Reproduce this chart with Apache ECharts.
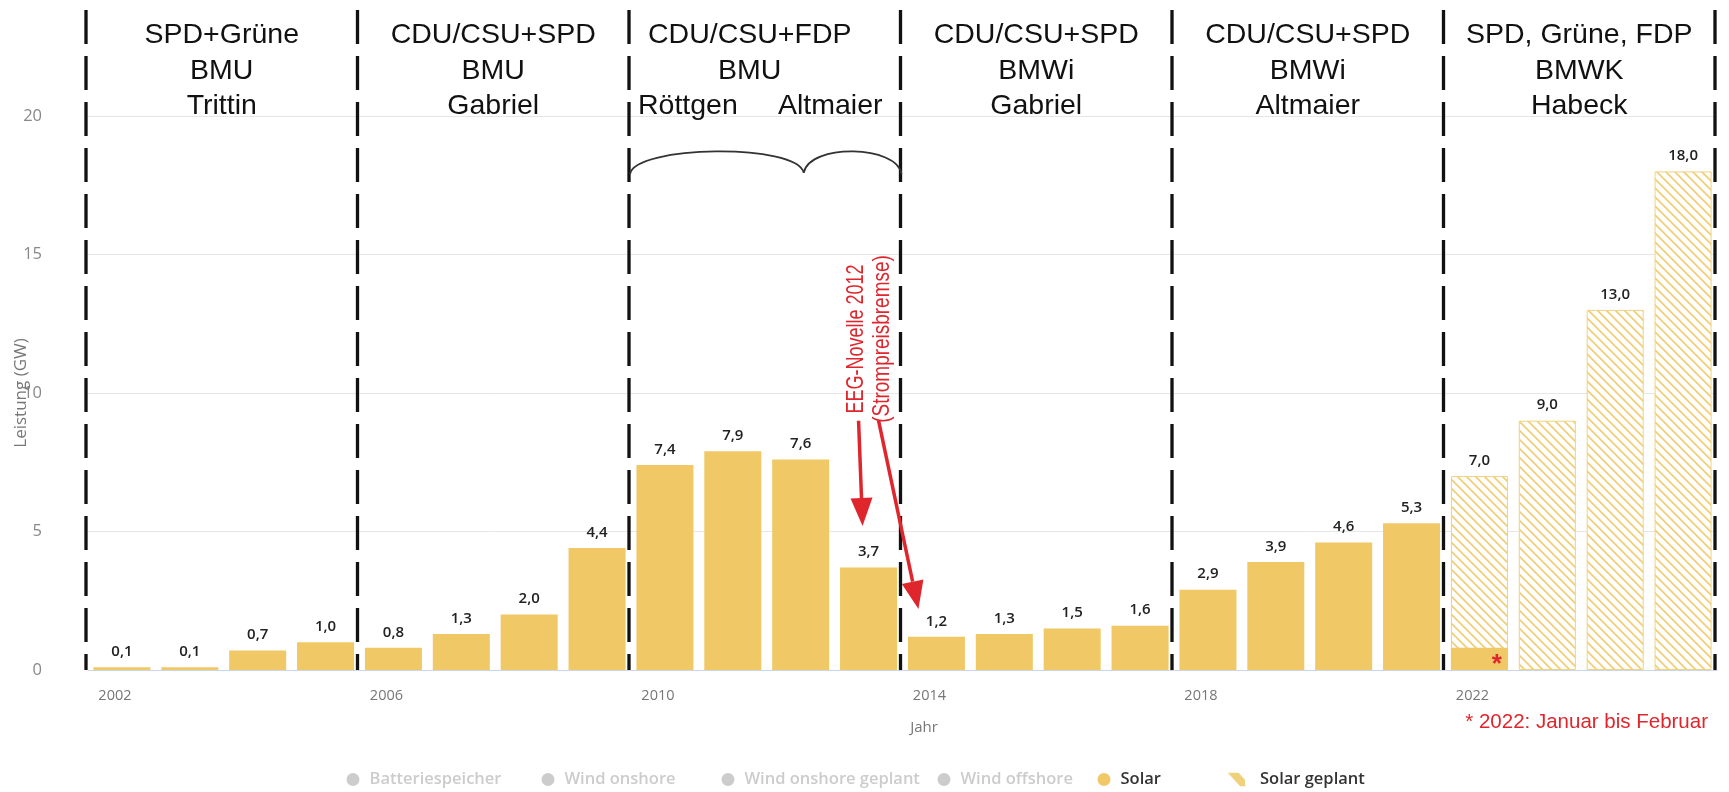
<!DOCTYPE html>
<html>
<head>
<meta charset="utf-8">
<script src="https://cdn.jsdelivr.net/npm/echarts@6/dist/echarts.min.js"></script>
<style>
  html, body { margin: 0; padding: 0; background: #fff; }
  #chart { width: 1729px; height: 792px; }
</style>
</head>
<body>
<div id="chart"></div>
<script>
// ---------- DATA ----------
const years = ['2002','2003','2004','2005','2006','2007','2008','2009','2010','2011','2012','2013',
               '2014','2015','2016','2017','2018','2019','2020','2021','2022','2023','2024','2025'];
const solar = [0.1, 0.1, 0.7, 1.0, 0.8, 1.3, 2.0, 4.4, 7.4, 7.9, 7.6, 3.7,
               1.2, 1.3, 1.5, 1.6, 2.9, 3.9, 4.6, 5.3, 0.8, null, null, null];
const solarPlanned = [null, null, null, null, null, null, null, null, null, null, null, null,
                      null, null, null, null, null, null, null, null, 7.0, 9.0, 13.0, 18.0];
const yTickMax = 20;
const yTickStep = 5;
const legendNames = ['Batteriespeicher', 'Wind onshore', 'Wind onshore geplant', 'Wind offshore', 'Solar', 'Solar geplant'];
const hiddenSeries = ['Batteriespeicher', 'Wind onshore', 'Wind onshore geplant', 'Wind offshore'];

// government periods (first year of each period)
const periodStarts = ['2002', '2006', '2010', '2014', '2018', '2022'];
const headerLine1 = ['SPD+Grüne', 'CDU/CSU+SPD', 'CDU/CSU+FDP', 'CDU/CSU+SPD', 'CDU/CSU+SPD', 'SPD, Grüne, FDP'];
const headerLine2 = ['BMU', 'BMU', 'BMU', 'BMWi', 'BMWi', 'BMWK'];
const headerLine3 = ['Trittin', 'Gabriel', '', 'Gabriel', 'Altmaier', 'Habeck'];
const splitMinisters = ['Röttgen', 'Altmaier'];
const braceSplitYear = '2012';
const annotationYear = '2013';
const annotationText = ['EEG-Novelle 2012', '(Strompreisbremse)'];
const footnote = '* 2022: Januar bis Februar';
const partialYear = '2022';
const yAxisTitle = 'Leistung (GW)';
const xAxisTitle = 'Jahr';

// ---------- STYLE ----------
const SOLAR = '#f0c866';
const RED = '#e0262d';
const fmt = v => (v == null ? '' : Number(v).toFixed(1).replace('.', ','));

function hatch() {
  const c = document.createElement('canvas');
  c.width = 9; c.height = 9;
  const g = c.getContext('2d');
  g.fillStyle = '#ffffff';
  g.fillRect(0, 0, 9, 9);
  g.strokeStyle = '#f0cf78';
  g.lineWidth = 1.8;
  g.beginPath();
  g.moveTo(-4.5, 4.5); g.lineTo(4.5, 13.5);
  g.moveTo(0, 0); g.lineTo(9, 9);
  g.moveTo(4.5, -4.5); g.lineTo(13.5, 4.5);
  g.stroke();
  return c;
}

const chart = echarts.init(document.getElementById('chart'), null, { renderer: 'canvas' });

const labelStyle = {
  show: true, position: 'top', distance: 8,
  color: '#222', fontSize: 15, fontWeight: 600, fontFamily: 'Open Sans',
  formatter: p => fmt(p.value)
};

const solarData = solar.map((v, i) => {
  if (years[i] === partialYear) {
    return { value: v, label: { show: true, position: 'insideRight', offset: [0, 6], distance: 6,
      formatter: '*', color: RED, fontSize: 26, fontWeight: 'bold', fontFamily: 'Liberation Sans' } };
  }
  return v;
});

// one legend block per item, so each item sits where the reference puts it
const legendIconX = [353, 548, 728, 944, 1104, 1236];
const legends = legendNames.map((n, i) => {
  const item = { name: n, icon: 'circle' };
  let w = 23, shift = 5, fmtName = name => name;
  if (n === 'Solar geplant') {
    item.icon = 'path://M0,0L3,0L12,10L9,10Z M4,0L7,0L12,5.5L12,9Z';
    item.itemStyle = { color: '#efcc70' };
    w = 14; shift = 0;
    fmtName = name => '\u2002\u2009' + name;
  }
  const sel = {};
  sel[n] = hiddenSeries.indexOf(n) < 0;
  return {
    data: [item], selected: sel,
    left: legendIconX[i] - w / 2 + shift, top: 771, padding: 0,
    itemWidth: w, itemHeight: 13, itemGap: 0,
    inactiveColor: '#cccccc',
    formatter: fmtName,
    textStyle: { color: '#333', fontSize: 16.5, fontWeight: 600, fontFamily: 'Open Sans' }
  };
});

const option = {
  animation: false,
  backgroundColor: '#ffffff',
  grid: { left: 88, right: 12, top: 116, bottom: 122, containLabel: false, outerBoundsMode: 'none' },
  legend: legends,
  xAxis: {
    type: 'category',
    data: years,
    axisLine: { lineStyle: { color: '#ccd6eb', width: 1 } },
    axisTick: { show: false },
    axisLabel: { interval: 3, color: '#777', fontSize: 14.5, fontFamily: 'Open Sans', margin: 18,
                 padding: [0, 14, 0, 0] }
  },
  yAxis: {
    type: 'value', min: 0, max: yTickMax, interval: yTickStep,
    axisLine: { show: false }, axisTick: { show: false },
    axisLabel: { color: '#888', fontSize: 16.5, fontFamily: 'Open Sans', margin: 46 },
    splitLine: { lineStyle: { color: '#e6e6e6', width: 1 } }
  },
  series: [
    { name: 'Batteriespeicher', type: 'line', data: [], itemStyle: { color: '#8c8c8c' } },
    { name: 'Wind onshore', type: 'line', data: [], itemStyle: { color: '#7cb5ec' } },
    { name: 'Wind onshore geplant', type: 'line', data: [], itemStyle: { color: '#90ed7d' } },
    { name: 'Wind offshore', type: 'line', data: [], itemStyle: { color: '#434348' } },
    {
      name: 'Solar geplant', type: 'bar', data: solarPlanned,
      barCategoryGap: '16%', barGap: '-100%',
      itemStyle: { color: { image: hatch(), repeat: 'repeat' }, borderColor: '#f0d27e', borderWidth: 1 },
      label: labelStyle
    },
    {
      name: 'Solar', type: 'bar', data: solarData,
      barCategoryGap: '16%', barGap: '-100%',
      itemStyle: { color: SOLAR },
      label: labelStyle
    }
  ]
};
chart.setOption(option);

// ---------- ANNOTATIONS (positioned from the axes) ----------
const cx = y => chart.convertToPixel({ xAxisIndex: 0 }, y);
const vy = v => chart.convertToPixel({ yAxisIndex: 0 }, v);
const band = cx(years[1]) - cx(years[0]);
const leftEdge = y => cx(y) - band / 2;
const rightEnd = cx(years[years.length - 1]) + band / 2;
const yBase = vy(0);
const boundaries = periodStarts.map(leftEdge).concat([rightEnd]).map(x => x - 2);

const g = [];
const headerFont = { fontSize: 28.5, fontFamily: 'Liberation Sans', fill: '#111' };
const lineY = [35, 71, 106];

boundaries.forEach(x => {
  g.push({ type: 'line', silent: true, z: 50,
    shape: { x1: x, y1: 10, x2: x, y2: yBase },
    style: { stroke: '#111', lineWidth: 3.3, lineDash: [34, 12] } });
});

for (let i = 0; i < periodStarts.length; i++) {
  let mid = (boundaries[i] + boundaries[i + 1]) / 2;
  if (headerLine3[i] === '') mid -= 15;
  [headerLine1[i], headerLine2[i], headerLine3[i]].forEach((t, k) => {
    if (!t) return;
    g.push({ type: 'text', silent: true, z: 60, x: mid, y: lineY[k],
      style: Object.assign({ text: t, align: 'center', verticalAlign: 'middle' }, headerFont) });
  });
  if (headerLine3[i] === '') {
    const a = boundaries[i] + 9, b = boundaries[i + 1] - 18;
    g.push({ type: 'text', silent: true, z: 60, x: a, y: lineY[2],
      style: Object.assign({ text: splitMinisters[0], align: 'left', verticalAlign: 'middle' }, headerFont) });
    g.push({ type: 'text', silent: true, z: 60, x: b, y: lineY[2],
      style: Object.assign({ text: splitMinisters[1], align: 'right', verticalAlign: 'middle' }, headerFont) });
    // curly brace
    const L = boundaries[i] + 1, R = boundaries[i + 1] + 1, C = cx(braceSplitYear) + 3;
    const yEnd = vy(17.9), yTop = vy(18.95), yCusp = vy(17.95);
    const bs = { stroke: '#333', lineWidth: 1.8, fill: null };
    g.push({ type: 'bezierCurve', silent: true, z: 60,
      shape: { x1: L, y1: yEnd, cpx1: L + 4, cpy1: yTop, cpx2: C - 6, cpy2: yTop - 2, x2: C, y2: yCusp }, style: bs });
    g.push({ type: 'bezierCurve', silent: true, z: 60,
      shape: { x1: C, y1: yCusp, cpx1: C + 6, cpy1: yTop - 2, cpx2: R - 4, cpy2: yTop, x2: R, y2: yEnd }, style: bs });
  }
}

// red annotation (EEG-Novelle 2012)
const ax = cx(annotationYear);
const redFont = { fontSize: 24, fontFamily: 'Liberation Sans', fill: RED, align: 'center', verticalAlign: 'middle' };
g.push({ type: 'text', silent: true, z: 70, x: ax - 12, y: vy(11.95), rotation: Math.PI / 2, scaleX: 0.75,
  style: Object.assign({ text: annotationText[0] }, redFont) });
g.push({ type: 'text', silent: true, z: 70, x: ax + 14, y: vy(11.95), rotation: Math.PI / 2, scaleX: 0.79,
  style: Object.assign({ text: annotationText[1] }, redFont) });

function arrow(x1, y1, x2, y2) {
  const ang = Math.atan2(y2 - y1, x2 - x1);
  const hl = 28, hw = 11;
  const bx = x2 - hl * Math.cos(ang), by = y2 - hl * Math.sin(ang);
  const nx = -Math.sin(ang), ny = Math.cos(ang);
  g.push({ type: 'line', silent: true, z: 70, shape: { x1, y1, x2: bx, y2: by },
    style: { stroke: RED, lineWidth: 3.5 } });
  g.push({ type: 'polygon', silent: true, z: 70,
    shape: { points: [[x2, y2], [bx + nx * hw, by + ny * hw], [bx - nx * hw, by - ny * hw]] },
    style: { fill: RED } });
}
arrow(ax - 10, vy(9.0), ax - 6, vy(5.2));
const nx2 = cx(years[years.indexOf(annotationYear) + 1]);
arrow(ax + 10, vy(9.0), nx2 - 18, vy(2.2));

// footnote
g.push({ type: 'text', silent: true, z: 70, x: rightEnd - 9, y: 722,
  style: { text: footnote, align: 'right', verticalAlign: 'middle', fontSize: 20.5, fontFamily: 'Liberation Sans', fill: RED } });
// axis titles
g.push({ type: 'text', silent: true, z: 70, x: 924, y: 728,
  style: { text: xAxisTitle, align: 'center', verticalAlign: 'middle', fontSize: 15, fontFamily: 'Open Sans', fill: '#777' } });
g.push({ type: 'text', silent: true, z: 70, x: 21, y: vy(yTickMax / 2), rotation: Math.PI / 2,
  style: { text: yAxisTitle, align: 'center', verticalAlign: 'middle', fontSize: 17, fontFamily: 'Open Sans', fill: '#777' } });

chart.setOption({ graphic: g });
</script>
</body>
</html>
